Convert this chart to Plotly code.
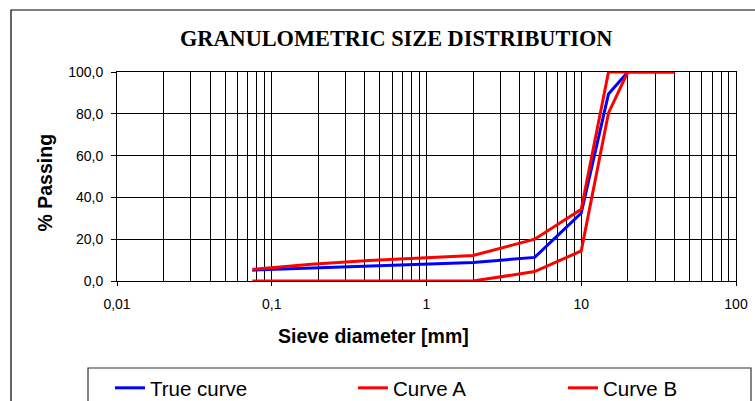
import plotly.graph_objects as go

# ---- data ----
true_size = [0.075, 2, 5, 10, 15, 20]
true_pass = [5.2, 8.9, 11.3, 32.5, 89.5, 100.0]

a_size = [0.075, 0.18, 0.425, 2, 5, 10, 15, 40]
a_pass = [5.6, 8.0, 9.8, 12.2, 20.0, 34.3, 100.0, 100.0]

b_size = [0.075, 2, 5, 10, 15, 20, 40]
b_pass = [0.0, 0.0, 4.5, 14.4, 80.4, 100.0, 100.0]

x_major = [0.01, 0.1, 1, 10, 100]
x_major_text = ["0,01", "0,1", "1", "10", "100"]
x_minor = [m * d for d in [0.01, 0.1, 1, 10] for m in range(2, 10)]
y_ticks = [0, 20, 40, 60, 80, 100]
y_text = ["0,0", "20,0", "40,0", "60,0", "80,0", "100,0"]

W, H = 755, 401
L, R, T, B = 117, 736, 72, 281  # plot area in px


def px(xp):
    return (xp - L) / (R - L)


def py(yp):
    return (B - yp) / (B - T)


fig = go.Figure()
fig.add_trace(go.Scatter(x=true_size, y=true_pass, mode="lines", name="True curve",
                         line=dict(color="#0000FF", width=3), legend="legend"))
fig.add_trace(go.Scatter(x=a_size, y=a_pass, mode="lines", name="Curve A",
                         line=dict(color="#FF0000", width=3), legend="legend2"))
fig.add_trace(go.Scatter(x=b_size, y=b_pass, mode="lines", name="Curve B",
                         line=dict(color="#FF0000", width=3), legend="legend3"))

lfont = dict(family="Liberation Sans, Arial", size=20.5, color="black")
leg_common = dict(orientation="v", xanchor="left", yanchor="middle", font=lfont,
                  bgcolor="rgba(0,0,0,0)", borderwidth=0, xref="paper", yref="paper")

fig.update_layout(
    width=W, height=H,
    margin=dict(l=L, r=W - R, t=T, b=H - B, pad=0, autoexpand=False),
    paper_bgcolor="white", plot_bgcolor="white",
    showlegend=True,
    legend=dict(x=px(115 - 5), y=py(388), **leg_common),
    legend2=dict(x=px(358 - 5), y=py(388), **leg_common),
    legend3=dict(x=px(568 - 5), y=py(388), **leg_common),
    xaxis=dict(
        type="log", range=[-2, 2],
        tickvals=x_major, ticktext=x_major_text,
        ticks="outside", ticklen=4, tickcolor="black", tickwidth=1,
        showgrid=True, gridcolor="black", gridwidth=1,
        minor=dict(tickvals=x_minor, showgrid=True, gridcolor="black", gridwidth=1, ticks=""),
        showline=True, linecolor="black", linewidth=1, mirror=True,
        tickfont=dict(family="Liberation Sans, Arial", size=14, color="black"),
        ticklabelstandoff=6,
        zeroline=False,
    ),
    yaxis=dict(
        range=[0, 100],
        tickvals=y_ticks, ticktext=y_text,
        ticks="outside", ticklen=5, tickcolor="black", tickwidth=1,
        showgrid=True, gridcolor="black", gridwidth=1,
        showline=True, linecolor="black", linewidth=1, mirror=True,
        tickfont=dict(family="Liberation Sans, Arial", size=14, color="black"),
        ticklabelstandoff=5,
        zeroline=False,
    ),
    shapes=[
        # outer chart frame
        dict(type="rect", xref="paper", yref="paper",
             x0=px(11), x1=px(770), y0=py(10), y1=py(430),
             line=dict(color="black", width=1.2), fillcolor="rgba(0,0,0,0)", layer="below"),
        # legend box
        dict(type="rect", xref="paper", yref="paper",
             x0=px(88), x1=px(751), y0=py(368), y1=py(430),
             line=dict(color="#333333", width=1.2), fillcolor="rgba(0,0,0,0)", layer="below"),
    ],
    annotations=[
        dict(text="<b>GRANULOMETRIC SIZE DISTRIBUTION</b>", xref="paper", yref="paper",
             x=px(395.5), y=py(39), xanchor="center", yanchor="middle", showarrow=False,
             font=dict(family="Liberation Serif, Times New Roman", size=22.3, color="black")),
        dict(text="<b>Sieve diameter [mm]</b>", xref="paper", yref="paper",
             x=px(373.5), y=py(336), xanchor="center", yanchor="middle", showarrow=False,
             font=dict(family="Liberation Sans, Arial", size=19.5, color="black")),
        dict(text="<b>% Passing</b>", xref="paper", yref="paper", textangle=-90,
             x=px(44), y=py(182.5), xanchor="center", yanchor="middle", showarrow=False,
             font=dict(family="Liberation Sans, Arial", size=19.5, color="black")),
    ],
)

fig.write_html("out.html")
